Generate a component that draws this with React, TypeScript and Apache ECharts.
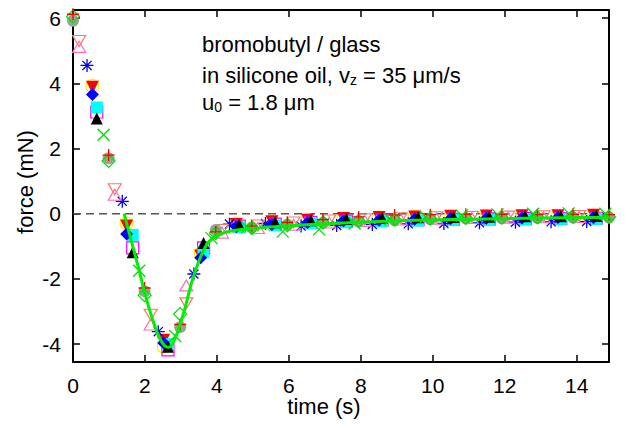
import React, { useEffect, useRef } from "react";
import * as echarts from "echarts";

// ---- axis ticks ----
const xTicks = [0, 2, 4, 6, 8, 10, 12, 14];
const yTicks = [-4, -2, 0, 2, 4, 6];

// ---- sampling times (s) per phase group ----
const tA = [0, 0.99, 1.99, 2.98, 3.97, 4.97, 5.96, 6.95, 7.94, 8.94, 9.93, 10.92, 11.92, 12.91, 13.9, 14.9];
const tB = [0.17, 1.16, 2.16, 3.15, 4.14, 5.14, 6.13, 7.12, 8.11, 9.11, 10.1, 11.09, 12.09, 13.08, 14.07];
const tC = [0.39, 1.37, 2.37, 3.36, 4.35, 5.35, 6.34, 7.33, 8.32, 9.32, 10.31, 11.3, 12.3, 13.29, 14.28];
const tD1 = [0.54, 1.49, 2.52, 3.55, 4.54, 5.53, 6.52, 7.52, 8.51, 9.5, 10.5, 11.49, 12.48, 13.48, 14.47];
const tD2 = [0.66, 1.66, 2.64, 3.63, 4.62, 5.62, 6.61, 7.6, 8.59, 9.59, 10.58, 11.57, 12.57, 13.56, 14.55];
const tE = [0.85, 1.84, 2.84, 3.85, 4.84, 5.83, 6.84, 7.83, 8.82, 9.81, 10.81, 11.8, 12.79, 13.78, 14.8];

// ---- force values (mN) ----
const grayCircle = [5.92, 1.7, -2.38, -3.48, -0.5, -0.42, -0.34, -0.28, -0.24, -0.2, -0.17, -0.15, -0.14, -0.13, -0.12, -0.12];
const greenDiamond = [6.05, 1.62, -2.5, -3.08, -0.6, -0.44, -0.35, -0.27, -0.22, -0.18, -0.15, -0.13, -0.12, -0.11, -0.1, -0.1];
const redPlus = [6.12, 1.8, -2.28, -3.4, -0.56, -0.38, -0.27, -0.18, -0.1, -0.04, -0.03, -0.02, -0.02, -0.03, -0.02, -0.03];
const salmonDown = [5.3, 0.75, -3.1, -2.75, -0.5, -0.36, -0.27, -0.21, -0.17, -0.14, -0.11, -0.1, -0.09, -0.08, -0.07];
const pinkUp = [5.12, 0.58, -3.4, -2.2, -0.58, -0.44, -0.34, -0.27, -0.22, -0.18, -0.15, -0.13, -0.12, -0.11, -0.1];
const blueStar = [4.55, 0.38, -3.62, -1.85, -0.32, -0.3, -0.38, -0.36, -0.33, -0.31, -0.3, -0.28, -0.26, -0.25, -0.24];
const redTri = [3.88, -0.38, -3.88, -1.3, -0.33, -0.25, -0.2, -0.15, -0.12, -0.1, -0.08, -0.07, -0.06, -0.06, -0.05];
const yellowCircle = [3.92, -0.3, -4.08, -1.22, -0.3, -0.24, -0.19, -0.15, -0.12, -0.1, -0.09, -0.08, -0.07, -0.07, -0.06];
const blueDiamond = [3.66, -0.62, -3.97, -1.35, -0.4, -0.33, -0.27, -0.22, -0.19, -0.16, -0.15, -0.14, -0.13, -0.12, -0.12];
const cyanSquare = [3.26, -0.65, -4.0, -1.18, -0.42, -0.36, -0.3, -0.26, -0.23, -0.21, -0.19, -0.18, -0.17, -0.16, -0.16];
const magentaSquare = [3.12, -1.05, -4.18, -1.05, -0.38, -0.32, -0.27, -0.23, -0.2, -0.18, -0.17, -0.16, -0.15, -0.15, -0.14];
const blackTri = [2.92, -1.18, -4.08, -0.9, -0.33, -0.26, -0.2, -0.16, -0.13, -0.11, -0.1, -0.09, -0.08, -0.08, -0.07];
const greenX = [2.42, -1.75, -3.75, -0.75, -0.42, -0.55, -0.48, -0.3, -0.18, -0.1, -0.06, -0.02, 0.0, 0.01, 0.0];

// ---- fit curve ----
const fitT = [1.42, 1.6, 1.8, 2.0, 2.2, 2.4, 2.55, 2.65, 2.75, 2.9, 3.1, 3.3, 3.5, 3.7, 3.9, 4.1, 4.4, 4.8, 5.3, 6, 7, 8, 9, 10, 11, 12, 13, 14, 14.9];
const fitF = [0, -0.75, -1.58, -2.45, -3.2, -3.8, -4.05, -4.1, -4.02, -3.65, -2.95, -2.1, -1.45, -0.98, -0.74, -0.62, -0.53, -0.47, -0.42, -0.37, -0.31, -0.26, -0.22, -0.19, -0.17, -0.15, -0.13, -0.12, -0.11];

const zeroLineT = [0, 14.9];
const zeroLineF = [0, 0];

const FONT = "'Liberation Sans', Arial, Helvetica, sans-serif";

const zip = (t: number[], f: number[]) => t.map((x, i) => [x, f[i]]);

const P = {
  star: "path://M5,0L5,10M0,5L10,5M1.5,1.5L8.5,8.5M8.5,1.5L1.5,8.5",
  cross: "path://M0,0L10,10M10,0L0,10",
  plus: "path://M5,0L5,10M0,5L10,5",
  downTri: "path://M0,0L10,0L5,8.66Z",
  upTri: "path://M5,0L10,8.66L0,8.66Z",
  square: "path://M0,0L10,0L10,10L0,10Z",
  diamond: "path://M5,0L10,5L5,10L0,5Z",
  circle: "path://M0,5A5,5 0 1 1 10,5A5,5 0 1 1 0,5Z",
};

function measure(text: string, size: number) {
  const c = document.createElement("canvas").getContext("2d")!;
  c.font = `${size}px 'Liberation Sans', Arial, sans-serif`;
  return c.measureText(text).width;
}

export default function App() {
  const ref = useRef<HTMLDivElement>(null);
  useEffect(() => {
    const chart = echarts.init(ref.current!, null, { renderer: "svg" });

    const filled = (name: string, t: number[], f: number[], symbol: string, color: string, size: number, rotate = 0) => ({
      name, type: "scatter", data: zip(t, f), symbol, symbolSize: size, symbolRotate: rotate,
      itemStyle: { color, opacity: 1 }, silent: true, clip: false,
    });
    const open = (name: string, t: number[], f: number[], symbol: string, color: string, size: number | number[], bw = 1.2) => ({
      name, type: "scatter", data: zip(t, f), symbol, symbolSize: size,
      itemStyle: { color: "rgba(0,0,0,0)", borderColor: color, borderWidth: bw, opacity: 1 }, silent: true, clip: false,
    });

    const mainSize = 22;
    const subSize = 14;
    const x0 = 202;
    const y1 = 44;
    const y2 = 75;
    const y3 = 102;
    const l2a = "in silicone oil, v";
    const l2b = "z";
    const l2c = " = 35 \u03bcm/s";
    const l3a = "u";
    const l3b = "0";
    const l3c = " = 1.8 \u03bcm";
    const w2a = measure(l2a, mainSize);
    const w2b = measure(l2b, subSize);
    const w3a = measure(l3a, mainSize);
    const w3b = measure(l3b, subSize);
    const txt = (text: string, x: number, y: number, size: number) => ({
      type: "text", x, y, silent: true,
      style: { text, fill: "#000", fontSize: size, fontFamily: FONT, verticalAlign: "middle", textVerticalAlign: "middle", align: "left" },
    });

    const option: any = {
      animation: false,
      backgroundColor: "#fff",
      grid: { left: 73, right: 21, top: 10, bottom: 66 },
      xAxis: [
        {
          type: "value", min: 0, max: 14.9, position: "bottom",
          axisLine: { show: true, onZero: false, lineStyle: { color: "#000", width: 2 } },
          axisTick: { show: true, inside: true, length: 7, customValues: xTicks, lineStyle: { color: "#000", width: 1.5 } },
          axisLabel: { show: true, customValues: xTicks, margin: 13, fontSize: 21, color: "#000", fontFamily: FONT },
          splitLine: { show: false },
        },
        {
          type: "value", min: 0, max: 14.9, position: "top",
          axisLine: { show: true, onZero: false, lineStyle: { color: "#000", width: 2 } },
          axisTick: { show: true, inside: true, length: 7, customValues: xTicks, lineStyle: { color: "#000", width: 1.5 } },
          axisLabel: { show: false },
          splitLine: { show: false },
        },
      ],
      yAxis: [
        {
          type: "value", min: -4.55, max: 6.25, position: "left",
          axisLine: { show: true, onZero: false, lineStyle: { color: "#000", width: 2 } },
          axisTick: { show: true, inside: true, length: 7, customValues: yTicks, lineStyle: { color: "#000", width: 1.5 } },
          axisLabel: { show: true, customValues: yTicks, margin: 12, fontSize: 21, color: "#000", fontFamily: FONT },
          splitLine: { show: false },
        },
        {
          type: "value", min: -4.55, max: 6.25, position: "right",
          axisLine: { show: true, onZero: false, lineStyle: { color: "#000", width: 2 } },
          axisTick: { show: true, inside: true, length: 7, customValues: yTicks, lineStyle: { color: "#000", width: 1.5 } },
          axisLabel: { show: false },
          splitLine: { show: false },
        },
      ],
      graphic: [
        txt("bromobutyl / glass", x0, y1, mainSize),
        txt(l2a, x0, y2, mainSize),
        txt(l2b, x0 + w2a, y2 + 5, subSize),
        txt(l2c, x0 + w2a + w2b, y2, mainSize),
        txt(l3a, x0, y3, mainSize),
        txt(l3b, x0 + w3a, y3 + 5, subSize),
        txt(l3c, x0 + w3a + w3b, y3, mainSize),
        {
          type: "text", x: 324, y: 406, silent: true,
          style: { text: "time (s)", fill: "#000", fontSize: 22, fontFamily: FONT, align: "center", verticalAlign: "middle", textAlign: "center", textVerticalAlign: "middle" },
        },
        {
          type: "text", x: 25, y: 182, rotation: Math.PI / 2, silent: true,
          style: { text: "force (mN)", fill: "#000", fontSize: 22, fontFamily: FONT, align: "center", verticalAlign: "middle", textAlign: "center", textVerticalAlign: "middle" },
        },
      ],
      series: [
        {
          name: "zero", type: "line", data: zip(zeroLineT, zeroLineF), showSymbol: false, silent: true,
          lineStyle: { color: "#555", width: 1.5, type: [8, 5] }, z: 1,
        },
        open("yellow circle", tD1, yellowCircle, P.circle, "#ffee00", 13),
        filled("red triangle", tD1, redTri, "triangle", "#ff0000", 13, 180),
        open("magenta square", tD2, magentaSquare, P.square, "#ff00ff", 12),
        filled("cyan square", tD2, cyanSquare, "rect", "#00ffff", 12),
        filled("blue diamond", tD1, blueDiamond, "diamond", "#0000ff", 13),
        filled("black triangle", tD2, blackTri, "triangle", "#000000", 12),
        open("blue asterisk", tC, blueStar, P.star, "#0000ff", 13, 1.3),
        open("salmon triangle", tB, salmonDown, P.downTri, "#fa7a60", [13, 11]),
        open("pink triangle", tB, pinkUp, P.upTri, "#ff6eb4", [13, 11]),
        filled("gray circle", tA, grayCircle, "circle", "#93a593", 12),
        open("green diamond", tA, greenDiamond, P.diamond, "#00dd00", 13),
        open("red plus", tA, redPlus, P.plus, "#ff0000", 12, 1.3),
        open("green cross", tE, greenX, P.cross, "#00dd00", 12, 1.3),
        {
          name: "fit", type: "line", data: zip(fitT, fitF), showSymbol: false, smooth: 0.3, silent: true,
          lineStyle: { color: "#00ee00", width: 3 }, z: 5,
        },
      ],
    };
    chart.setOption(option);
    return () => chart.dispose();
  }, []);
  return <div ref={ref} style={{ position: "fixed", left: 0, top: 0, width: 630, height: 428 }} />;
}
